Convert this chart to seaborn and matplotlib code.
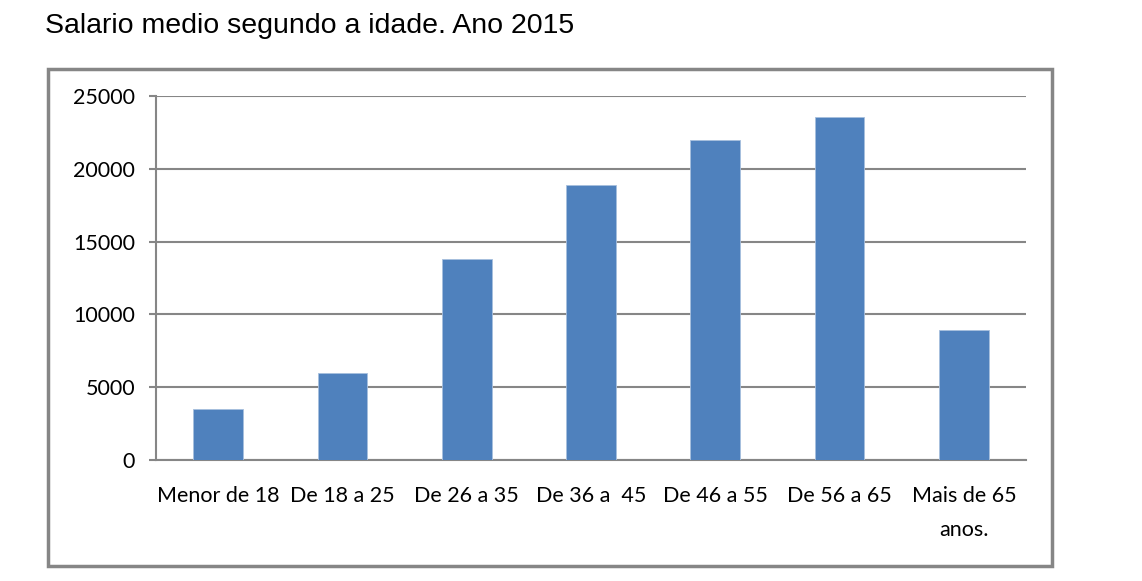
import matplotlib
matplotlib.use("Agg")
import matplotlib.pyplot as plt
import seaborn as sns
import pandas as pd
from matplotlib.patches import Rectangle

# ************* DATA *****************
categorias = ["Menor de 18", "De 18 a 25", "De 26 a 35", "De 36 a  45",
              "De 46 a 55", "De 56 a 65", "Mais de 65\nanos."]
salarios = [3500, 6000, 13800, 18900, 21950, 23550, 8900]
y_ticks = [0, 5000, 10000, 15000, 20000, 25000]

df = pd.DataFrame({"idade": categorias, "salario": salarios})

sns.set_style("white")
plt.rcParams["font.family"] = ["Lato", "DejaVu Sans"]
plt.rcParams["text.color"] = "black"
plt.rcParams["xtick.labelcolor"] = "black"
plt.rcParams["ytick.labelcolor"] = "black"

gris = "#868686"
azul = "#4F81BD"

fig = plt.figure(figsize=(11.42, 5.81), dpi=100)
ax = fig.add_axes([156 / 1142, 1 - 460 / 581, 870 / 1142, 364 / 581])

sns.barplot(data=df, x="idade", y="salario", color=azul, width=0.4,
            saturation=1, edgecolor="#A7BFDE", linewidth=0.6, ax=ax, zorder=3)

ax.set_xlim(-0.5, len(categorias) - 0.5)
ax.set_ylim(0, 25000)
ax.set_yticks(y_ticks)
ax.set_yticklabels([str(v) for v in y_ticks])
ax.yaxis.grid(True, color=gris, linewidth=1.5, zorder=0)
ax.set_axisbelow(True)

# tick marks between categories, labels centred
ax.set_xticks([i - 0.5 for i in range(len(categorias) + 1)], minor=True)
ax.tick_params(axis="x", which="major", length=0, pad=19, labelsize=15.5, labelcolor="black")
ax.tick_params(axis="x", which="minor", length=5, width=1.5, color=gris, direction="out")
ax.tick_params(axis="y", length=5, width=1.5, color=gris, pad=10, labelsize=15.5,
               left=True, labelcolor="black")
for lbl in ax.get_xticklabels():
    lbl.set_linespacing(1.85)

for s in ["top", "right"]:
    ax.spines[s].set_visible(False)
for s in ["left", "bottom"]:
    ax.spines[s].set_color(gris)
    ax.spines[s].set_linewidth(1.5)

ax.set_xlabel("")
ax.set_ylabel("")

# outer chart frame
fig.patches.append(Rectangle((48 / 1142, 1 - 566 / 581), 1004 / 1142, 497 / 581,
                             transform=fig.transFigure, fill=False,
                             edgecolor=gris, linewidth=2.5))

fig.text(45 / 1142, 1 - 26 / 581, "Salario medio segundo a idade. Ano 2015",
         fontsize=20.5, family=["Liberation Sans", "DejaVu Sans"], va="center", ha="left",
         color="black")

plt.savefig("out.png", dpi=100)
